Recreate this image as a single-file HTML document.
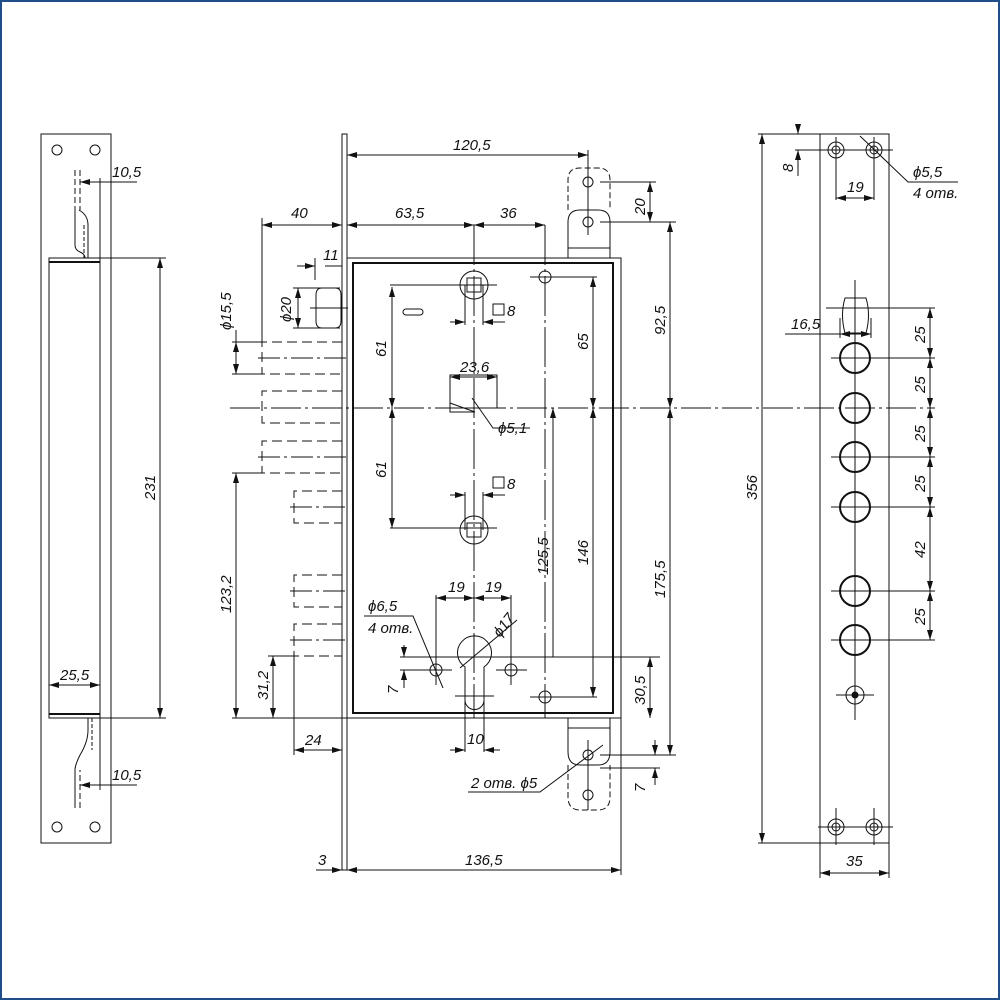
<!DOCTYPE html>
<html><head><meta charset="utf-8"><style>
html,body{margin:0;padding:0;background:#fff}
svg{display:block}
text{font-family:"Liberation Sans",sans-serif;font-style:italic;font-size:15px;fill:#111}
</style></head><body>
<svg width="1000" height="1000" viewBox="0 0 1000 1000" xmlns="http://www.w3.org/2000/svg">
<defs>
<marker id="a" viewBox="0 0 10 6" refX="10" refY="3" markerWidth="10" markerHeight="6" orient="auto-start-reverse" markerUnits="userSpaceOnUse"><path d="M0,0 L10,3 L0,6 z" fill="#111"/></marker>
</defs>
<rect x="1" y="1" width="998" height="998" fill="none" stroke="#1f4e8a" stroke-width="2"/>
<g fill="none" stroke="#111" stroke-width="1">
<!-- LEFT STRIKE PLATE -->
<rect x="41" y="134" width="70" height="709"/>
<circle cx="57" cy="150" r="5"/><circle cx="95" cy="150" r="5"/>
<circle cx="57" cy="827" r="5"/><circle cx="95" cy="827" r="5"/>
<rect x="49" y="258" width="51" height="460"/>
<line x1="49" y1="262" x2="100" y2="262" stroke-width="2"/>
<line x1="49" y1="714" x2="100" y2="714" stroke-width="2"/>
<line x1="100" y1="178" x2="100" y2="790"/>
<path d="M75,210 V245 Q75,250 80,252 Q85,254 85,258"/>
<path d="M79,210 Q88,215 88,225 V258"/>
<path d="M75,170 V210" stroke-dasharray="6,3"/>
<path d="M80,170 V210" stroke-dasharray="6,3"/>
<path d="M84,225 V258" stroke-dasharray="4,2"/>
<path d="M88,225 V258" stroke-dasharray="4,2"/>
<path d="M75,808 V770 Q75,765 80,755 Q88,742 88,730 V718"/>
<path d="M80,808 V770" stroke-dasharray="6,3"/>
<path d="M92,718 V750" stroke-dasharray="4,2"/>
<line x1="80" y1="182" x2="137" y2="182"/><line x1="100" y1="182" x2="80" y2="182" marker-end="url(#a)"/>
<line x1="80" y1="785" x2="137" y2="785"/><line x1="100" y1="785" x2="80" y2="785" marker-end="url(#a)"/>
<line x1="100" y1="258" x2="166" y2="258"/><line x1="100" y1="718" x2="166" y2="718"/>
<line x1="160" y1="258" x2="160" y2="718" marker-start="url(#a)" marker-end="url(#a)"/>
<line x1="49" y1="685" x2="100" y2="685" marker-start="url(#a)" marker-end="url(#a)"/>

<!-- MIDDLE -->
<rect x="342" y="134" width="5" height="736"/>
<rect x="347" y="258" width="274" height="460"/>
<rect x="353" y="263" width="260" height="450" stroke-width="2"/>
<path d="M568,258 V222 Q568,210 580,210 H598 Q610,210 610,222 V258"/>
<line x1="568" y1="248" x2="610" y2="248"/>
<path d="M568,210 V180 Q568,168 580,168 H598 Q610,168 610,180 V210" stroke-dasharray="6,3"/>
<circle cx="588" cy="182" r="5"/><circle cx="588" cy="222" r="5"/>
<path d="M568,718 V752 Q568,765 580,765 H598 Q610,765 610,752 V718"/>
<line x1="568" y1="728" x2="610" y2="728"/>
<path d="M568,765 V797 Q568,810 580,810 H598 Q610,810 610,797 V765" stroke-dasharray="6,3"/>
<circle cx="588" cy="755" r="5"/><circle cx="588" cy="795" r="5"/>
<line x1="588" y1="150" x2="588" y2="235"/><line x1="588" y1="740" x2="588" y2="810"/>
<line x1="230" y1="408" x2="935" y2="408" stroke-dasharray="30,4,3,4"/>
<line x1="474" y1="225" x2="474" y2="718" stroke-dasharray="40,4,3,4"/>
<line x1="545" y1="225" x2="545" y2="718" stroke-dasharray="40,4,3,4"/>
<circle cx="474" cy="285" r="14"/><rect x="467" y="278" width="14" height="14"/>
<line x1="465" y1="285" x2="465" y2="325"/><line x1="483" y1="285" x2="483" y2="325"/>
<line x1="390" y1="285" x2="497" y2="285"/>
<line x1="450" y1="322" x2="465" y2="322" marker-end="url(#a)"/><line x1="483" y1="322" x2="505" y2="322"/><line x1="505" y1="322" x2="483" y2="322" marker-end="url(#a)"/>
<rect x="493" y="304" width="11" height="11"/>
<circle cx="474" cy="530" r="14"/><rect x="467" y="523" width="14" height="14"/>
<line x1="465" y1="492" x2="465" y2="530"/><line x1="483" y1="492" x2="483" y2="530"/>
<line x1="390" y1="528" x2="497" y2="528"/>
<line x1="450" y1="495" x2="465" y2="495" marker-end="url(#a)"/><line x1="505" y1="495" x2="483" y2="495" marker-end="url(#a)"/>
<rect x="493" y="477" width="11" height="11"/>
<rect x="403" y="309" width="20" height="6" rx="3"/>
<rect x="450" y="375" width="47" height="33"/>
<path d="M450,408 V412 H475 L450,403"/>
<line x1="450" y1="377" x2="497" y2="377" marker-start="url(#a)" marker-end="url(#a)"/>
<polyline points="472,398 493,428 530,428"/>
<circle cx="545" cy="277" r="6"/><line x1="530" y1="277" x2="597" y2="277"/>
<circle cx="545" cy="697" r="6"/><line x1="530" y1="697" x2="597" y2="697"/>
<line x1="593" y1="277" x2="593" y2="408" marker-start="url(#a)" marker-end="url(#a)"/>
<line x1="593" y1="408" x2="593" y2="697" marker-start="url(#a)" marker-end="url(#a)"/>
<line x1="553" y1="408" x2="553" y2="657" marker-start="url(#a)"/>
<line x1="392" y1="287" x2="392" y2="408" marker-start="url(#a)" marker-end="url(#a)"/>
<line x1="392" y1="408" x2="392" y2="528" marker-start="url(#a)" marker-end="url(#a)"/>
<path d="M465,667 A17,17 0 1 1 484,667 V700 A9.5,9.5 0 0 1 465,700 Z"/>
<line x1="455" y1="696" x2="494" y2="696"/>
<line x1="465" y1="700" x2="465" y2="752"/><line x1="484" y1="700" x2="484" y2="752"/>
<line x1="450" y1="750" x2="465" y2="750" marker-end="url(#a)"/><line x1="500" y1="750" x2="484" y2="750" marker-end="url(#a)"/>
<line x1="460" y1="668" x2="517" y2="620"/>
<circle cx="436" cy="670" r="6"/><circle cx="511" cy="670" r="6"/>
<line x1="400" y1="670" x2="452" y2="670"/><line x1="496" y1="670" x2="527" y2="670"/>
<line x1="436" y1="595" x2="436" y2="685"/><line x1="511" y1="595" x2="511" y2="685"/>
<line x1="436" y1="598" x2="474" y2="598" marker-start="url(#a)" marker-end="url(#a)"/>
<line x1="474" y1="598" x2="511" y2="598" marker-start="url(#a)" marker-end="url(#a)"/>
<polyline points="364,616 413,616 443,688"/>
<line x1="400" y1="657" x2="660" y2="657"/>
<line x1="404" y1="645" x2="404" y2="657" marker-end="url(#a)"/><line x1="404" y1="688" x2="404" y2="670" marker-end="url(#a)"/>
<line x1="650" y1="657" x2="650" y2="718" marker-start="url(#a)" marker-end="url(#a)"/>
<path d="M322,288 H335 Q341,288 341,295 V321 Q341,328 335,328 H322 Q316,328 316,321 V295 Q316,288 322,288 Z"/>
<line x1="310" y1="308" x2="348" y2="308"/>
<line x1="293" y1="288" x2="340" y2="288"/><line x1="293" y1="328" x2="340" y2="328"/>
<line x1="298" y1="288" x2="298" y2="328" marker-start="url(#a)" marker-end="url(#a)"/>
<line x1="315" y1="258" x2="315" y2="280"/>
<line x1="297" y1="266" x2="315" y2="266" marker-end="url(#a)"/><line x1="342" y1="266" x2="325" y2="266"/>
<g stroke-dasharray="10,5">
<path d="M342,342 H262 V374 H342"/><path d="M342,391 H262 V423 H342"/><path d="M342,441 H262 V473 H342"/>
<path d="M342,491 H294 V523 H342"/><path d="M342,575 H294 V607 H342"/><path d="M342,624 H294 V656 H342"/>
</g>
<g stroke-dasharray="22,4,3,4">
<line x1="258" y1="358" x2="348" y2="358"/><line x1="258" y1="457" x2="348" y2="457"/>
<line x1="290" y1="507" x2="348" y2="507"/><line x1="290" y1="591" x2="348" y2="591"/><line x1="290" y1="640" x2="348" y2="640"/>
</g>
<line x1="262" y1="218" x2="262" y2="342"/>
<line x1="262" y1="225" x2="342" y2="225" marker-start="url(#a)" marker-end="url(#a)"/>
<line x1="347" y1="225" x2="474" y2="225" marker-start="url(#a)" marker-end="url(#a)"/>
<line x1="474" y1="225" x2="545" y2="225" marker-start="url(#a)" marker-end="url(#a)"/>
<line x1="347" y1="155" x2="588" y2="155" marker-start="url(#a)" marker-end="url(#a)"/>
<line x1="232" y1="342" x2="262" y2="342"/><line x1="232" y1="374" x2="262" y2="374"/>
<line x1="236" y1="330" x2="236" y2="374" marker-end="url(#a)"/><line x1="236" y1="342" x2="236" y2="374" marker-start="url(#a)"/>
<line x1="232" y1="473" x2="262" y2="473"/><line x1="232" y1="718" x2="347" y2="718"/>
<line x1="236" y1="473" x2="236" y2="718" marker-start="url(#a)" marker-end="url(#a)"/>
<line x1="268" y1="656" x2="294" y2="656"/>
<line x1="273" y1="656" x2="273" y2="718" marker-start="url(#a)" marker-end="url(#a)"/>
<line x1="294" y1="656" x2="294" y2="755"/>
<line x1="294" y1="750" x2="342" y2="750" marker-start="url(#a)" marker-end="url(#a)"/>
<line x1="621" y1="718" x2="621" y2="875"/>
<line x1="316" y1="870" x2="342" y2="870" marker-end="url(#a)"/>
<line x1="347" y1="870" x2="621" y2="870" marker-start="url(#a)" marker-end="url(#a)"/>
<line x1="600" y1="182" x2="656" y2="182"/><line x1="600" y1="222" x2="676" y2="222"/>
<line x1="650" y1="182" x2="650" y2="222" marker-start="url(#a)" marker-end="url(#a)"/>
<line x1="670" y1="222" x2="670" y2="408" marker-start="url(#a)" marker-end="url(#a)"/>
<line x1="670" y1="408" x2="670" y2="755" marker-start="url(#a)" marker-end="url(#a)"/>
<line x1="600" y1="755" x2="676" y2="755"/><line x1="600" y1="768" x2="660" y2="768"/>
<line x1="655" y1="740" x2="655" y2="755" marker-end="url(#a)"/><line x1="655" y1="785" x2="655" y2="768" marker-end="url(#a)"/>
<polyline points="468,792 540,792 603,745"/>

<!-- RIGHT PLATE -->
<rect x="820" y="134" width="69" height="709"/>
<circle cx="836" cy="150" r="8"/><circle cx="836" cy="150" r="4"/>
<circle cx="874" cy="150" r="8"/><circle cx="874" cy="150" r="4"/>
<circle cx="836" cy="827" r="8"/><circle cx="836" cy="827" r="4"/>
<circle cx="874" cy="827" r="8"/><circle cx="874" cy="827" r="4"/>
<line x1="795" y1="150" x2="893" y2="150"/><line x1="818" y1="827" x2="893" y2="827"/>
<line x1="836" y1="137" x2="836" y2="200"/><line x1="874" y1="137" x2="874" y2="200"/>
<line x1="836" y1="808" x2="836" y2="845"/><line x1="874" y1="808" x2="874" y2="845"/>
<line x1="836" y1="198" x2="874" y2="198" marker-start="url(#a)" marker-end="url(#a)"/>
<polyline points="860,136 908,182 958,182"/>
<line x1="758" y1="134" x2="820" y2="134"/><line x1="758" y1="843" x2="820" y2="843"/>
<line x1="762" y1="134" x2="762" y2="843" marker-start="url(#a)" marker-end="url(#a)"/>
<line x1="798" y1="124" x2="798" y2="134" marker-end="url(#a)"/><line x1="798" y1="176" x2="798" y2="150" marker-end="url(#a)"/>
<line x1="820" y1="843" x2="820" y2="878"/><line x1="889" y1="843" x2="889" y2="878"/>
<line x1="820" y1="873" x2="889" y2="873" marker-start="url(#a)" marker-end="url(#a)"/>
<path d="M845,298 H866 Q871,315 866,333 H845 Q840,315 845,298 Z"/>
<line x1="855" y1="280" x2="855" y2="720"/>
<line x1="840" y1="318" x2="840" y2="338"/><line x1="871" y1="318" x2="871" y2="338"/>
<line x1="785" y1="334" x2="840" y2="334"/><line x1="840" y1="334" x2="871" y2="334" marker-start="url(#a)" marker-end="url(#a)"/>
<g stroke-width="2">
<circle cx="855" cy="358" r="15"/><circle cx="855" cy="408" r="15"/><circle cx="855" cy="457" r="15"/>
<circle cx="855" cy="507" r="15"/><circle cx="855" cy="591" r="15"/><circle cx="855" cy="640" r="15"/>
</g>
<circle cx="855" cy="695" r="9"/><circle cx="855" cy="695" r="3" fill="#111"/>
<line x1="836" y1="695" x2="874" y2="695"/>
<line x1="826" y1="308" x2="935" y2="308"/>
<line x1="831" y1="358" x2="935" y2="358"/><line x1="831" y1="457" x2="935" y2="457"/>
<line x1="831" y1="507" x2="935" y2="507"/><line x1="831" y1="591" x2="935" y2="591"/><line x1="831" y1="640" x2="935" y2="640"/>
<line x1="930" y1="308" x2="930" y2="358" marker-start="url(#a)" marker-end="url(#a)"/>
<line x1="930" y1="358" x2="930" y2="408" marker-start="url(#a)" marker-end="url(#a)"/>
<line x1="930" y1="408" x2="930" y2="457" marker-start="url(#a)" marker-end="url(#a)"/>
<line x1="930" y1="457" x2="930" y2="507" marker-start="url(#a)" marker-end="url(#a)"/>
<line x1="930" y1="507" x2="930" y2="591" marker-start="url(#a)" marker-end="url(#a)"/>
<line x1="930" y1="591" x2="930" y2="640" marker-start="url(#a)" marker-end="url(#a)"/>
</g>
<g>
<text x="112" y="177">10,5</text>
<text x="112" y="780">10,5</text>
<text x="60" y="680">25,5</text>
<text transform="translate(155,500) rotate(-90)">231</text>
<text x="453" y="150">120,5</text>
<text x="291" y="218">40</text>
<text x="395" y="218">63,5</text>
<text x="500" y="218">36</text>
<text x="323" y="260">11</text>
<text transform="translate(291,322) rotate(-90)">ϕ20</text>
<text transform="translate(231,330) rotate(-90)">ϕ15,5</text>
<text transform="translate(386,357) rotate(-90)">61</text>
<text transform="translate(386,478) rotate(-90)">61</text>
<text x="460" y="372">23,6</text>
<text x="498" y="433">ϕ5,1</text>
<text x="507" y="316">8</text>
<text x="507" y="489">8</text>
<text transform="translate(588,350) rotate(-90)">65</text>
<text transform="translate(548,575) rotate(-90)">125,5</text>
<text transform="translate(588,565) rotate(-90)">146</text>
<text transform="translate(665,335) rotate(-90)">92,5</text>
<text transform="translate(665,598) rotate(-90)">175,5</text>
<text transform="translate(645,215) rotate(-90)">20</text>
<text transform="translate(231,613) rotate(-90)">123,2</text>
<text transform="translate(268,700) rotate(-90)">31,2</text>
<text x="305" y="745">24</text>
<text x="448" y="592">19</text>
<text x="485" y="592">19</text>
<text transform="translate(500,638) rotate(-52)">ϕ17</text>
<text x="368" y="611">ϕ6,5</text>
<text x="368" y="633">4 отв.</text>
<text transform="translate(398,694) rotate(-90)">7</text>
<text transform="translate(645,705) rotate(-90)">30,5</text>
<text x="467" y="744">10</text>
<text x="471" y="788">2 отв. ϕ5</text>
<text transform="translate(645,792) rotate(-90)">7</text>
<text x="318" y="865">3</text>
<text x="465" y="865">136,5</text>
<text transform="translate(793,172) rotate(-90)">8</text>
<text x="847" y="192">19</text>
<text x="913" y="177">ϕ5,5</text>
<text x="913" y="198">4 отв.</text>
<text x="791" y="329">16,5</text>
<text transform="translate(757,500) rotate(-90)">356</text>
<text transform="translate(925,343) rotate(-90)">25</text>
<text transform="translate(925,393) rotate(-90)">25</text>
<text transform="translate(925,442) rotate(-90)">25</text>
<text transform="translate(925,492) rotate(-90)">25</text>
<text transform="translate(925,558) rotate(-90)">42</text>
<text transform="translate(925,625) rotate(-90)">25</text>
<text x="846" y="866">35</text>
</g>
</svg>
</body></html>
